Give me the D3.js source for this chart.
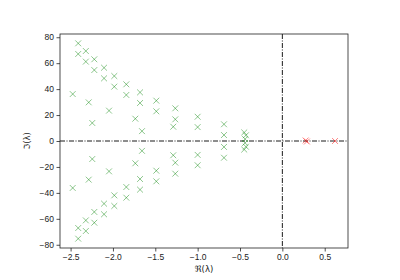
<!DOCTYPE html>
<html>
<head>
<meta charset="utf-8">
<script src="https://cdn.jsdelivr.net/npm/d3@7"></script>
<style>
  body { margin: 0; background: #fff; }
  svg { display: block; font-family: "DejaVu Sans", sans-serif; }
</style>
</head>
<body>
<div id="chart"></div>
<script>
// eigenvalues, stable part (green)
const stableRe = [
  -2.41, -2.41, -2.32, -2.32, -2.22, -2.22, -2.105, -2.105, -1.984, -1.984,
  -1.842, -1.842, -1.68, -1.68, -1.488, -1.488, -1.264, -1.264, -1.288, -1.0,
  -1.0, -2.475, -2.286, -2.244, -2.046, -1.736, -1.657, -0.689, -0.689, -0.45,
  -0.43, -0.44,
  -2.41, -2.41, -2.32, -2.32, -2.22, -2.22, -2.105, -2.105, -1.984, -1.984,
  -1.842, -1.842, -1.68, -1.68, -1.488, -1.488, -1.264, -1.264, -1.288, -1.0,
  -1.0, -2.475, -2.286, -2.244, -2.046, -1.736, -1.657, -0.689, -0.689, -0.45,
  -0.43, -0.44
];
const stableIm = [
  75.3, 67.1, 69.4, 61.2, 63.0, 54.7, 56.5, 48.3, 50.1, 41.9,
  43.7, 35.5, 37.5, 29.3, 31.1, 22.9, 25.2, 16.7, 11.0, 18.7,
  10.7, 36.2, 29.8, 13.9, 23.4, 17.2, 7.6, 12.9, 4.6, 6.6,
  4.4, 1.5,
  -75.3, -67.1, -69.4, -61.2, -63.0, -54.7, -56.5, -48.3, -50.1, -41.9,
  -43.7, -35.5, -37.5, -29.3, -31.1, -22.9, -25.2, -16.7, -11.0, -18.7,
  -10.7, -36.2, -29.8, -13.9, -23.4, -17.2, -7.6, -12.9, -4.6, -6.6,
  -4.4, -1.5
];
// unstable part (red)
const unstableRe = [0.275, 0.29, 0.622];
const unstableIm = [0.4, -0.4, 0];

const xTicks = [-2.5, -2.0, -1.5, -1.0, -0.5, 0.0, 0.5];
const yTicks = [-80, -60, -40, -20, 0, 20, 40, 60, 80];

const W = 400, H = 280;
const margin = { top: 34, right: 52, bottom: 32, left: 60 };
const iw = W - margin.left - margin.right;
const ih = H - margin.top - margin.bottom;

const svg = d3.select("#chart").append("svg")
  .attr("width", W)
  .attr("height", H);

const x = d3.scaleLinear().domain([-2.625, 0.775]).range([0, iw]);
const y = d3.scaleLinear().domain([-82.5, 82.5]).range([ih, 0]);

const g = svg.append("g")
  .attr("transform", "translate(" + margin.left + "," + margin.top + ")");

const minus = s => s.replace("-", "\u2212");

/** axes */
g.append("g")
  .attr("transform", "translate(0," + ih + ")")
  .call(d3.axisBottom(x).tickValues(xTicks).tickSize(3.5).tickPadding(2.5)
    .tickFormat(d => minus(d3.format(".1f")(d))))
  .call(a => a.select(".domain").remove());

g.append("g")
  .call(d3.axisLeft(y).tickValues(yTicks).tickSize(3.5).tickPadding(2.5)
    .tickFormat(d => minus(String(d))))
  .call(a => a.select(".domain").remove());

g.selectAll(".tick text").attr("font-size", 8.5).attr("fill", "#222");
g.selectAll(".tick line").attr("stroke", "#222").attr("stroke-width", 0.8);

/** zero lines, dash-dot */
g.append("line")
  .attr("x1", 0).attr("x2", iw)
  .attr("y1", y(0)).attr("y2", y(0))
  .attr("stroke", "#000").attr("stroke-width", 0.9)
  .attr("stroke-dasharray", "5,1.5,1,1.5");
g.append("line")
  .attr("x1", x(0)).attr("x2", x(0))
  .attr("y1", 0).attr("y2", ih)
  .attr("stroke", "#000").attr("stroke-width", 0.9)
  .attr("stroke-dasharray", "5,1.5,1,1.5");

/** markers */
const cross = d3.symbol().type(d3.symbolX).size(24);

function drawPts(re, im, color, op) {
  g.append("g").selectAll("path")
    .data(re.map((r, i) => [r, im[i]]))
    .enter()
    .append("path")
    .attr("d", cross)
    .attr("transform", d => "translate(" + x(d[0]) + "," + y(d[1]) + ")")
    .attr("fill", "none")
    .attr("stroke", color)
    .attr("stroke-opacity", op)
    .attr("stroke-width", 0.9);
}
drawPts(stableRe, stableIm, "green", 0.5);
drawPts(unstableRe, unstableIm, "red", 0.55);

/** frame */
g.append("rect")
  .attr("width", iw).attr("height", ih)
  .attr("fill", "none")
  .attr("stroke", "#222")
  .attr("stroke-width", 0.8);

/** labels */
svg.append("text")
  .attr("x", margin.left + iw / 2)
  .attr("y", H - 8)
  .attr("text-anchor", "middle")
  .attr("font-size", 8.5)
  .attr("fill", "#222")
  .text("\u211C(\u03BB)");

svg.append("text")
  .attr("transform", "translate(30," + (margin.top + ih / 2) + ") rotate(-90)")
  .attr("text-anchor", "middle")
  .attr("font-size", 8.5)
  .attr("fill", "#222")
  .text("\u2111(\u03BB)");
</script>
</body>
</html>
